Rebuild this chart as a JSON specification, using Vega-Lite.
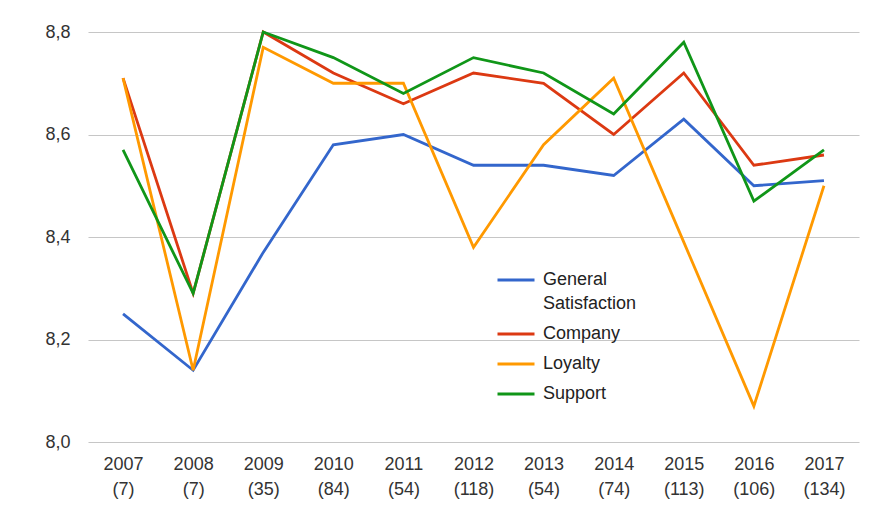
{
  "$schema": "https://vega.github.io/schema/vega-lite/v6.json",
  "autosize": {"type": "none"},
  "padding": {"left": 88, "top": 32, "right": 18, "bottom": 67},
  "width": 771,
  "height": 410,
  "background": "white",
  "config": {
    "view": {"stroke": null},
    "font": "Liberation Sans"
  },
  "data": {
    "values": [
      {"label": "2007 (7)", "series": "General Satisfaction", "value": 8.25},
      {"label": "2008 (7)", "series": "General Satisfaction", "value": 8.14},
      {"label": "2009 (35)", "series": "General Satisfaction", "value": 8.37},
      {"label": "2010 (84)", "series": "General Satisfaction", "value": 8.58},
      {"label": "2011 (54)", "series": "General Satisfaction", "value": 8.60},
      {"label": "2012 (118)", "series": "General Satisfaction", "value": 8.54},
      {"label": "2013 (54)", "series": "General Satisfaction", "value": 8.54},
      {"label": "2014 (74)", "series": "General Satisfaction", "value": 8.52},
      {"label": "2015 (113)", "series": "General Satisfaction", "value": 8.63},
      {"label": "2016 (106)", "series": "General Satisfaction", "value": 8.50},
      {"label": "2017 (134)", "series": "General Satisfaction", "value": 8.51},
      {"label": "2007 (7)", "series": "Company", "value": 8.71},
      {"label": "2008 (7)", "series": "Company", "value": 8.29},
      {"label": "2009 (35)", "series": "Company", "value": 8.80},
      {"label": "2010 (84)", "series": "Company", "value": 8.72},
      {"label": "2011 (54)", "series": "Company", "value": 8.66},
      {"label": "2012 (118)", "series": "Company", "value": 8.72},
      {"label": "2013 (54)", "series": "Company", "value": 8.70},
      {"label": "2014 (74)", "series": "Company", "value": 8.60},
      {"label": "2015 (113)", "series": "Company", "value": 8.72},
      {"label": "2016 (106)", "series": "Company", "value": 8.54},
      {"label": "2017 (134)", "series": "Company", "value": 8.56},
      {"label": "2007 (7)", "series": "Loyalty", "value": 8.71},
      {"label": "2008 (7)", "series": "Loyalty", "value": 8.14},
      {"label": "2009 (35)", "series": "Loyalty", "value": 8.77},
      {"label": "2010 (84)", "series": "Loyalty", "value": 8.70},
      {"label": "2011 (54)", "series": "Loyalty", "value": 8.70},
      {"label": "2012 (118)", "series": "Loyalty", "value": 8.38},
      {"label": "2013 (54)", "series": "Loyalty", "value": 8.58},
      {"label": "2014 (74)", "series": "Loyalty", "value": 8.71},
      {"label": "2015 (113)", "series": "Loyalty", "value": 8.39},
      {"label": "2016 (106)", "series": "Loyalty", "value": 8.07},
      {"label": "2017 (134)", "series": "Loyalty", "value": 8.50},
      {"label": "2007 (7)", "series": "Support", "value": 8.57},
      {"label": "2008 (7)", "series": "Support", "value": 8.29},
      {"label": "2009 (35)", "series": "Support", "value": 8.80},
      {"label": "2010 (84)", "series": "Support", "value": 8.75},
      {"label": "2011 (54)", "series": "Support", "value": 8.68},
      {"label": "2012 (118)", "series": "Support", "value": 8.75},
      {"label": "2013 (54)", "series": "Support", "value": 8.72},
      {"label": "2014 (74)", "series": "Support", "value": 8.64},
      {"label": "2015 (113)", "series": "Support", "value": 8.78},
      {"label": "2016 (106)", "series": "Support", "value": 8.47},
      {"label": "2017 (134)", "series": "Support", "value": 8.57}
    ]
  },
  "mark": {"type": "line", "strokeWidth": 2.8, "strokeJoin": "miter", "clip": false},
  "encoding": {
    "x": {
      "field": "label",
      "type": "ordinal",
      "sort": null,
      "scale": {"type": "point", "padding": 0.5},
      "axis": {
        "title": null,
        "labelAngle": 0,
        "labelExpr": "split(datum.label, ' ')",
        "labelFontSize": 18,
        "labelColor": "#333333",
        "labelLineHeight": 25,
        "labelPadding": 13,
        "ticks": false,
        "domain": false,
        "grid": false
      }
    },
    "y": {
      "field": "value",
      "type": "quantitative",
      "scale": {"domain": [8.0, 8.8], "nice": false, "zero": false},
      "axis": {
        "title": null,
        "values": [8.0, 8.2, 8.4, 8.6, 8.8],
        "labelExpr": "replace(format(datum.value, '.1f'), '.', ',')",
        "labelFontSize": 18,
        "labelColor": "#333333",
        "labelPadding": 18,
        "ticks": false,
        "domain": false,
        "grid": true,
        "gridColor": "#c6c6c6",
        "gridWidth": 1.2
      }
    },
    "color": {
      "field": "series",
      "type": "nominal",
      "scale": {
        "domain": ["General Satisfaction", "Company", "Loyalty", "Support"],
        "range": ["#3366cc", "#dc3912", "#ff9900", "#109618"]
      },
      "legend": {
        "title": null,
        "orient": "none",
        "legendX": 408,
        "legendY": 228,
        "symbolType": "stroke",
        "symbolSize": 1369,
        "symbolStrokeWidth": 3,
        "labelFontSize": 18,
        "labelColor": "#222222",
        "labelOffset": 7,
        "labelLimit": 300,
        "rowPadding": 1,
        "labelExpr": "datum.label == 'General Satisfaction' ? ['General', 'Satisfaction'] : datum.label",
        "encode": {
          "labels": {"update": {"lineHeight": {"value": 24}}}
        }
      }
    }
  }
}
